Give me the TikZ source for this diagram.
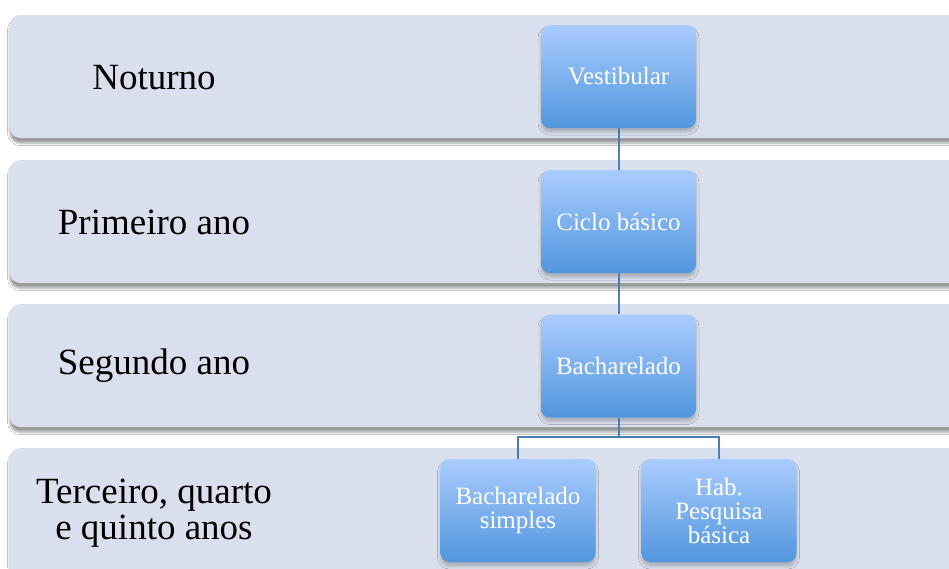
\documentclass[tikz,border=0pt]{standalone}
\usepackage{fontspec}
\setmainfont{Liberation Serif}
\usetikzlibrary{shadows.blur}
\definecolor{bandfill}{HTML}{D9DFEC}
\definecolor{boxtop}{HTML}{AACCFD}
\definecolor{boxbot}{HTML}{5196DD}
\definecolor{linkcol}{HTML}{4A7EBB}
\tikzset{
  band/.style={fill=bandfill, rounded corners=10pt,
    blur shadow={shadow xshift=0pt, shadow yshift=-5pt, shadow blur radius=2.5pt, shadow opacity=40}},
  bandlabel/.style={font=\fontsize{37}{36}\selectfont, align=center, text=black},
  stagebox/.style={rounded corners=9pt, top color=boxtop, bottom color=boxbot,
    minimum width=155pt, minimum height=103pt, inner sep=2pt,
    text=white, align=center, font=\fontsize{25}{24}\selectfont,
    blur shadow={shadow xshift=0pt, shadow yshift=-4pt, shadow blur radius=3pt, shadow opacity=22}},
  link/.style={draw=linkcol, line width=2pt}
}
\begin{document}
\begin{tikzpicture}[x=1pt,y=-1pt]
\useasboundingbox (0,0) rectangle (949,568);
\clip (0,0) rectangle (949,568);
\fill[white] (0,0) rectangle (949,568);
% bands
\path[band] (10,15) rectangle (980,138);
\path[band] (10,160) rectangle (980,283);
\path[band] (10,304) rectangle (980,427);
\path[band] (10,448) rectangle (980,600);
% band labels
\node[bandlabel] (l1) at (154,78) {Noturno};
\node[bandlabel] (l2) at (154,222) {Primeiro ano};
\node[bandlabel] (l3) at (154,366) {Segundo ano};
\node[bandlabel] (l4) at (154,513) {Terceiro, quarto\\e quinto anos};
% stage boxes
\node[stagebox] (v) at (618.5,76.5) {Vestibular};
\node[stagebox] (c) at (618.5,221.5) {Ciclo básico};
\node[stagebox] (b) at (618.5,366) {Bacharelado};
\node[stagebox] (bs) at (518,510.5) {Bacharelado\\simples};
\node[stagebox] (hp) at (719,510.5) {Hab.\\Pesquisa\\básica};
% connectors
\draw[link] (v.south) -- (c.north);
\draw[link] (c.south) -- (b.north);
\coordinate (j) at (618.5,437);
\draw[link] (b.south) -- (j);
\draw[link] (j) -| (bs.north);
\draw[link] (j) -| (hp.north);
\end{tikzpicture}
\end{document}
